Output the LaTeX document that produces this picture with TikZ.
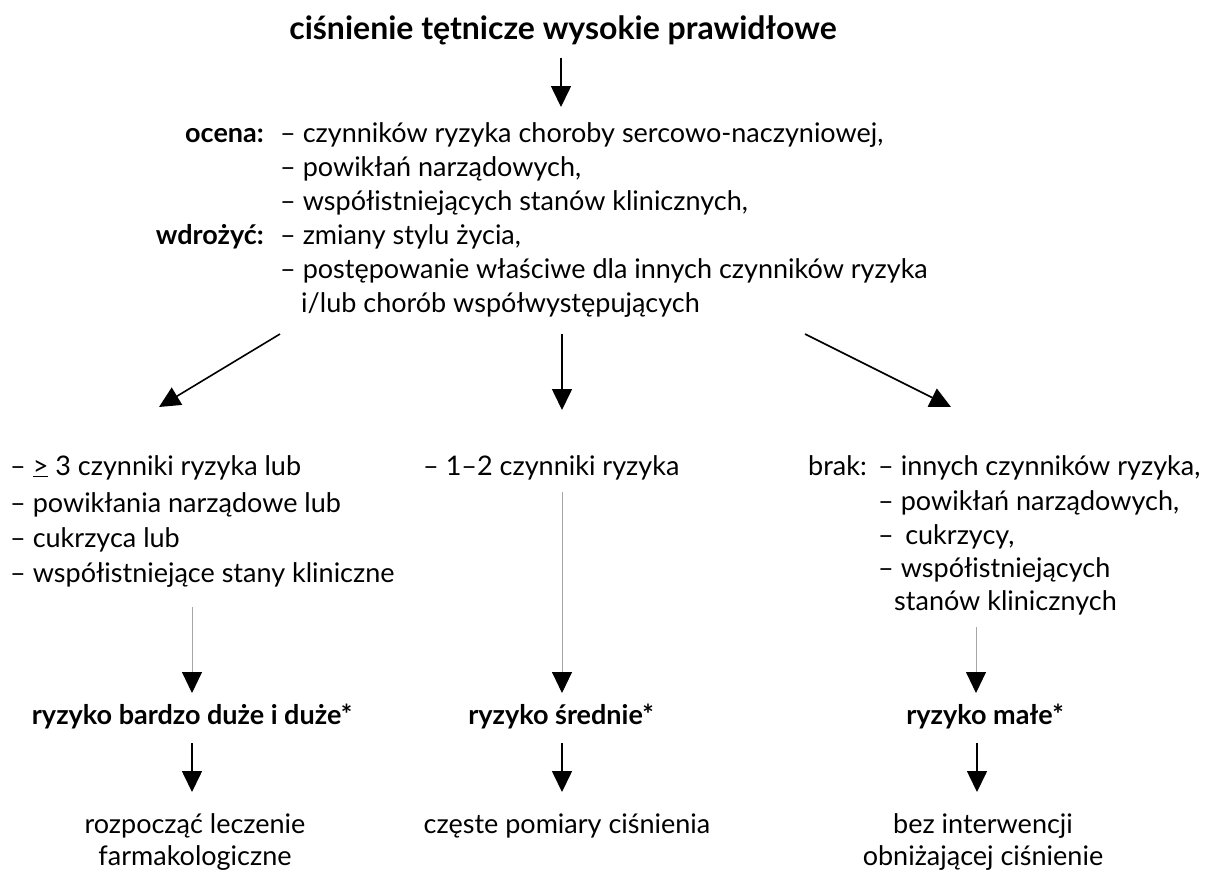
\documentclass[tikz,border=0pt]{standalone}
\usepackage{fontspec}
\setmainfont{Lato}
\usetikzlibrary{arrows.meta}

\tikzset{
  body/.style={font=\fontsize{27}{32}\selectfont, inner sep=0pt,
    text height=20pt, text depth=6pt},
  bold/.style={body, font=\fontsize{27}{32}\selectfont\bfseries},
  arr/.style={line width=1.6pt, -{Triangle[length=21pt, width=20pt]}},
  thinarr/.style={line width=0.9pt, gray!70, -{Triangle[length=21pt, width=20pt, black]}},
}

\begin{document}
\begin{tikzpicture}[x=1pt, y=-1pt]
  \useasboundingbox (0,0) rectangle (1205,871);

  % ---- heading ----
  \node[bold, font=\fontsize{32}{37}\selectfont\bfseries] (title) at (563,32)
    {ciśnienie tętnicze wysokie prawidłowe};
  \coordinate (t1) at (561,58);
  \coordinate (t2) at (561,107);
  \draw[arr] (t1) -- (t2);

  % ---- assessment block ----
  \node[bold, anchor=east] (ocena) at (264,135) {ocena:};
  \node[body, anchor=west] (oc1) at (280,135) {– czynników ryzyka choroby sercowo-naczyniowej,};
  \node[body, anchor=west] (oc2) at (280,169) {– powikłań narządowych,};
  \node[body, anchor=west] (oc3) at (280,203) {– współistniejących stanów klinicznych,};
  \node[bold, anchor=east] (wdr) at (264,237) {wdrożyć:};
  \node[body, anchor=west] (wd1) at (280,237) {– zmiany stylu życia,};
  \node[body, anchor=west] (wd2) at (280,271) {– postępowanie właściwe dla innych czynników ryzyka};
  \node[body, anchor=west] (wd3) at (301,305) {i/lub chorób współwystępujących};

  % ---- split into three branches ----
  \coordinate (sl) at (280,334);  \coordinate (el) at (159,407);
  \coordinate (sm) at (562,334);  \coordinate (em) at (562,410);
  \coordinate (sr) at (805,334);  \coordinate (er) at (951,407);
  \draw[arr] (sl) -- (el);
  \draw[arr] (sm) -- (em);
  \draw[arr] (sr) -- (er);

  % left branch
  \node[body, anchor=west] (l1) at (10,468) {– \underline{>} 3 czynniki ryzyka lub};
  \node[body, anchor=west] (l2) at (10,505) {– powikłania narządowe lub};
  \node[body, anchor=west] (l3) at (10,540) {– cukrzyca lub};
  \node[body, anchor=west] (l4) at (10,575) {– współistniejące stany kliniczne};

  % middle branch
  \node[body, anchor=west] (m1) at (423,468) {– 1–2 czynniki ryzyka};

  % right branch
  \node[body, anchor=west] (brak) at (808,468) {brak:};
  \node[body, anchor=west] (r1) at (878,468) {– innych czynników ryzyka,};
  \node[body, anchor=west] (r2) at (878,503) {– powikłań narządowych,};
  \node[body, anchor=west] (r3) at (878,537) {–\, cukrzycy,};
  \node[body, anchor=west] (r4) at (878,570) {– współistniejących};
  \node[body, anchor=west] (r5) at (894,603) {stanów klinicznych};

  % ---- risk level ----
  \coordinate (gl) at (192,607);  \coordinate (hl) at (192,693);
  \coordinate (gm) at (562,492);  \coordinate (hm) at (562,693);
  \coordinate (gr) at (976,627);  \coordinate (hr) at (976,693);
  \draw[thinarr] (gl) -- (hl);
  \draw[thinarr] (gm) -- (hm);
  \draw[thinarr] (gr) -- (hr);

  \node[bold] (rl) at (192,717) {ryzyko bardzo duże i duże*};
  \node[bold] (rm) at (561,717) {ryzyko średnie*};
  \node[bold] (rr) at (985,717) {ryzyko małe*};

  % ---- what to do ----
  \foreach \n/\x in {l/192, m/562, r/977} {
    \coordinate (d\n1) at (\x,743);
    \coordinate (d\n2) at (\x,792);
    \draw[arr] (d\n1) -- (d\n2);
  }

  \node[body] (dol1) at (195,826) {rozpocząć leczenie};
  \node[body] (dol2) at (195,858) {farmakologiczne};
  \node[body] (dom)  at (567,826) {częste pomiary ciśnienia};
  \node[body] (dor1) at (983,826) {bez interwencji};
  \node[body] (dor2) at (983,858) {obniżającej ciśnienie};
\end{tikzpicture}
\end{document}
